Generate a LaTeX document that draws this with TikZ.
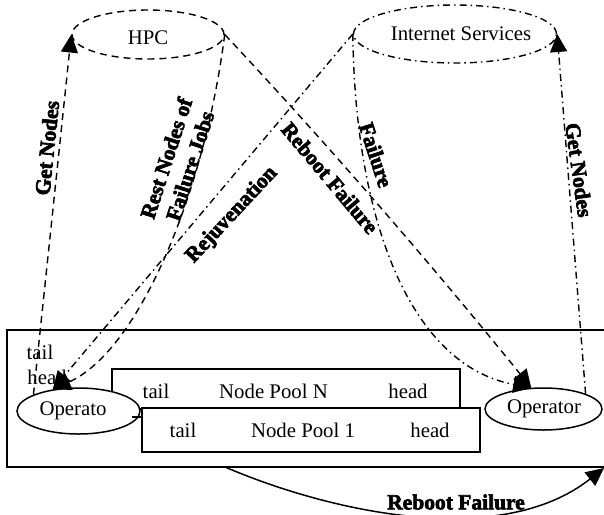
\documentclass[tikz,border=0pt]{standalone}
\usepackage{fontspec}
\setmainfont{Liberation Serif}
\newfontfamily\heavyfont[FakeBold=3]{Liberation Serif Bold}
\usetikzlibrary{arrows.meta,shapes.geometric}
\tikzset{
  x=1pt,y=-1pt,
  txt/.style={inner sep=0pt,font=\fontsize{20.8}{24}\selectfont,text=black},
  heavy/.style={inner sep=0pt,align=center,font=\heavyfont\fontsize{21.5}{25}\selectfont},
  oval/.style={ellipse,inner sep=0pt,line width=1.5pt,draw,fill=white},
  box/.style={rectangle,inner sep=0pt,line width=1.7pt,draw,fill=white},
  dashline/.style={line width=1.4pt,dash pattern=on 7pt off 5pt},
  dotline/.style={line width=1.4pt,dash pattern=on 7pt off 4pt on 1.5pt off 4pt},
  tip/.style={-{Triangle[length=18pt,width=17pt]}},
}
\begin{document}
\begin{tikzpicture}
\useasboundingbox (0,0) rectangle (604,514);
\clip (0,0) rectangle (604,514);
% cloud ellipses
\node[oval,line width=1.4pt,dash pattern=on 7pt off 5pt,minimum width=152pt,minimum height=49pt] (hpc) at (148,34.5) {};
\node[oval,line width=1.4pt,dash pattern=on 7pt off 4pt on 1.5pt off 4pt,minimum width=203pt,minimum height=58pt] (inet) at (455,34) {};
\node[txt] (hpclabel) at (148,38) {HPC};
\node[txt] (inetlabel) at (461,34) {Internet Services};
% frame and pools
\node[box,fill=none,minimum width=600pt,minimum height=137pt] (frame) at (307,398.5) {};
\node[box,minimum width=348pt,minimum height=40pt] (pooln) at (286,389) {};
\node[box,minimum width=338pt,minimum height=44pt] (poolone) at (311,430) {};
\node[oval,minimum width=123pt,minimum height=46pt] (opl) at (78.5,411) {};
\node[oval,minimum width=117pt,minimum height=42pt] (opr) at (543.5,409) {};
% texts
\node[txt] (t0) at (40,352) {tail};
\node[txt] (h0) at (47,377) {head};
\node[txt] (oltext) at (73,411) {Operato};
\node[txt] (ortext) at (544,409) {Operator};
\node[txt] (tn) at (156,391) {tail};
\node[txt] (nn) at (273.5,391) {Node Pool N};
\node[txt] (hn) at (408,391) {head};
\node[txt] (t1) at (183,430) {tail};
\node[txt] (n1) at (303,430) {Node Pool 1};
\node[txt] (h1) at (430,430) {head};
% connectors
\draw[dashline,tip] (opl.160) -- (hpc.west);
\draw[dotline,tip] (opr.20) -- (inet.east);
\draw[dashline,tip] (hpc.east) .. controls (205,190) and (140,350) .. (opl.140);
\draw[dotline,tip] (inet.west) -- (opl.140);
\draw[dashline,tip] (hpc.east) .. controls (333,150) and (436,270) .. (opr.120);
\draw[dotline,tip] (inet.west) .. controls (355,220) and (410,365) .. (opr.120);
\coordinate (ticka) at (132,417);
\coordinate (tickb) at (142,417);
\draw[line width=1.3pt] (ticka) -- (tickb);
\coordinate (rba) at (225,467);
\coordinate (rbb) at (604,468);
\draw[line width=1.5pt,tip] (rba) .. controls (330,512) and (500,550) .. (rbb);
% heavy rotated labels
\node[heavy,rotate=84] (gn1) at (47,148) {Get Nodes};
\node[heavy,rotate=-82] (gn2) at (579,170) {Get Nodes};
\node[heavy,rotate=72] (rest) at (178,162) {Rest Nodes of\\Failure Jobs};
\node[heavy,rotate=47] (rej) at (232,215) {Rejuvenation};
\node[heavy,rotate=-50] (rbf) at (330,178) {Reboot Failure};
\node[heavy,rotate=-72] (fail) at (376,155) {Failure};
\node[heavy] (rbbot) at (456,502) {Reboot Failure};
\end{tikzpicture}
\end{document}
